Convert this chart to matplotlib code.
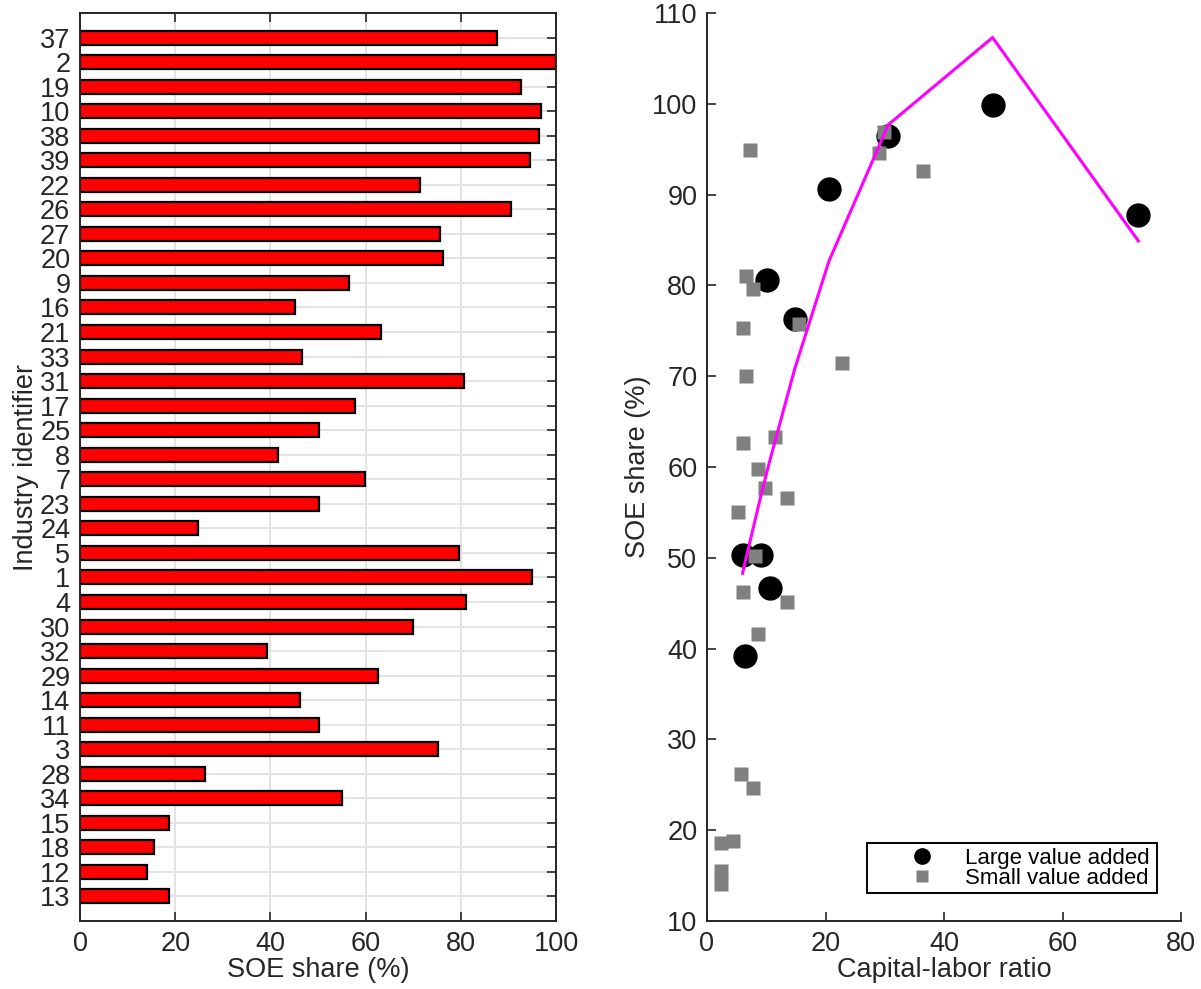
import matplotlib
matplotlib.use("Agg")
import matplotlib.pyplot as plt

plt.rcParams['font.family'] = ['Liberation Sans', 'DejaVu Sans']

# ---------------------------
# DATA
# ---------------------------
# industry ids from top to bottom of the bar chart
industry_ids = [37, 2, 19, 10, 38, 39, 22, 26, 27, 20, 9, 16, 21, 33, 31, 17, 25, 8,
                7, 23, 24, 5, 1, 4, 30, 32, 29, 14, 11, 3, 28, 34, 15, 18, 12, 13]
soe_share = [87.7, 99.9, 92.6, 96.9, 96.4, 94.6, 71.5, 90.6, 75.7, 76.3, 56.6, 45.1,
             63.3, 46.7, 80.6, 57.7, 50.3, 41.6, 59.8, 50.3, 24.7, 79.6, 94.9, 81.0,
             70.0, 39.2, 62.6, 46.2, 50.2, 75.3, 26.2, 55.0, 18.8, 15.5, 14.1, 18.6]

# large value added industries
large_kl = [6.0, 9.05, 10.6, 6.46, 10.2, 14.8, 20.6, 30.6, 48.2, 72.8]
large_soe = [50.3, 50.3, 46.7, 39.2, 80.6, 76.3, 90.6, 96.4, 99.9, 87.7]

# small value added industries
small_kl = [7.25, 6.6, 7.76, 6.07, 15.6, 22.75, 6.6, 6.07, 11.5, 29.8, 29.0, 36.5,
            8.6, 9.8, 13.5, 5.2, 8.1, 6.07, 13.5, 8.6, 5.73, 7.7, 2.3, 4.4, 2.3, 2.3]
small_soe = [94.9, 81.0, 79.6, 75.3, 75.7, 71.5, 70.0, 62.6, 63.3, 96.9, 94.6, 92.6,
             59.8, 57.7, 56.6, 55.0, 50.2, 46.2, 45.1, 41.6, 26.2, 24.7, 18.6, 18.8,
             15.5, 14.1]

# fitted curve (vertices as drawn)
fit_kl = [6.0, 6.46, 9.05, 10.2, 10.6, 14.8, 20.6, 30.6, 48.2, 72.8]
fit_soe = [48.3, 49.6, 56.7, 59.7, 60.7, 70.8, 82.7, 97.7, 107.3, 84.9]

txt = '#262626'
fs = 19.5

fig = plt.figure(figsize=(12.01, 9.89), dpi=100)

# ---------------------------
# LEFT: BAR CHART
# ---------------------------
ax1 = fig.add_axes([80 / 1201, 1 - 921 / 989, 476 / 1201, 908 / 989])
n = len(industry_ids)
ypos = [n - i for i in range(n)]
ax1.barh(ypos, soe_share, height=0.57, color='#ff0000', edgecolor='black',
         linewidth=1.6, zorder=3)
ax1.set_xlim(0, 100)
ax1.set_ylim(0, n + 1)
ax1.set_xticks([0, 20, 40, 60, 80, 100])
ax1.set_yticks(ypos)
ax1.set_yticklabels([str(v) for v in industry_ids])
ax1.grid(True, color='#e3e3e3', linewidth=1.4, zorder=0)
ax1.set_axisbelow(True)
ax1.tick_params(direction='in', length=6.5, width=1.2, colors=txt, labelsize=fs,
                top=True, right=True, pad=7)
for s in ax1.spines.values():
    s.set_color(txt)
    s.set_linewidth(1.4)
    s.set_zorder(5)
ax1.set_xlabel('SOE share (%)', fontsize=fs, color=txt, labelpad=0)
ax1.set_ylabel('Industry identifier', fontsize=fs, color=txt, labelpad=0.5)

# ---------------------------
# RIGHT: SCATTER
# ---------------------------
ax2 = fig.add_axes([707 / 1201, 1 - 921 / 989, 474 / 1201, 908 / 989])
ax2.plot(large_kl, large_soe, linestyle='none', marker='o', markersize=16.5,
         markerfacecolor='black', markeredgecolor='black', label='Large value added',
         zorder=3)
ax2.plot(small_kl, small_soe, linestyle='none', marker='s', markersize=10.2,
         markerfacecolor='#808080', markeredgecolor='none', label='Small value added',
         zorder=4)
ax2.plot(fit_kl, fit_soe, color='#ff00ff', linewidth=2.2, zorder=5)
ax2.set_xlim(0, 80)
ax2.set_ylim(10, 110)
ax2.set_xticks([0, 20, 40, 60, 80])
ax2.set_yticks(range(10, 111, 10))
ax2.spines['top'].set_visible(False)
ax2.spines['right'].set_visible(False)
for s in ['left', 'bottom']:
    ax2.spines[s].set_color(txt)
    ax2.spines[s].set_linewidth(1.4)
ax2.tick_params(direction='in', length=6.5, width=1.2, colors=txt, labelsize=fs, pad=7)
ax2.set_xlabel('Capital-labor ratio', fontsize=fs, color=txt, labelpad=0)
ax2.set_ylabel('SOE share (%)', fontsize=fs, color=txt, labelpad=1)

leg = ax2.legend(loc='lower left', bbox_to_anchor=(0.337, 0.0305, 0.613, 0.056),
                 mode='expand', borderaxespad=0, fontsize=16, frameon=True,
                 fancybox=False, framealpha=1, edgecolor='black', borderpad=0.2,
                 labelspacing=-0.03, handlelength=4.6, handletextpad=-0.4,
                 numpoints=1)
leg.get_frame().set_linewidth(1.4)
leg.legend_handles[0].set_markersize(11)
leg.legend_handles[1].set_markersize(8.5)

fig.savefig('out.png', dpi=100)
